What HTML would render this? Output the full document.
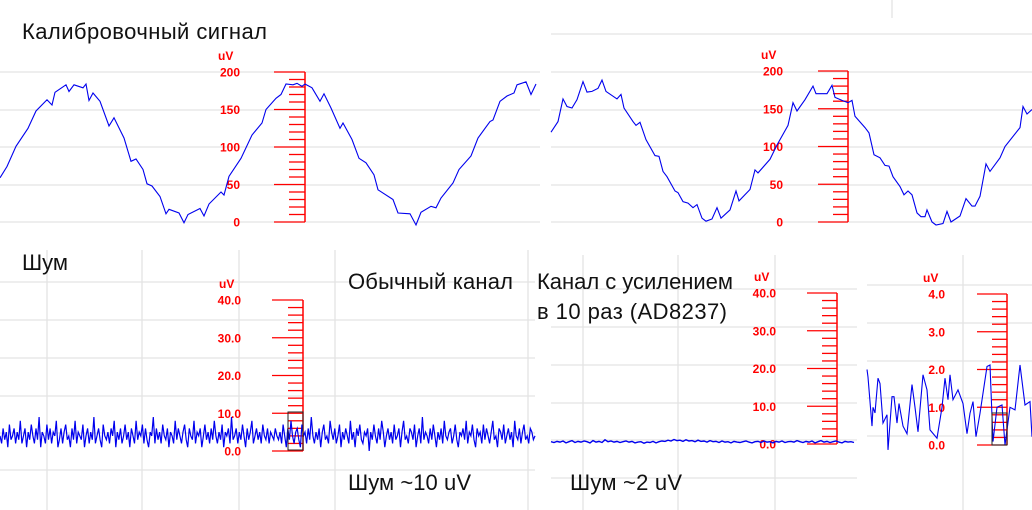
<!DOCTYPE html>
<html><head><meta charset="utf-8"><style>
html,body{margin:0;padding:0;background:#fff;width:1032px;height:510px;overflow:hidden}
svg{display:block}
.t{font-family:"Liberation Sans","Noto Sans CJK SC",sans-serif;font-size:22px;fill:#111}
.r{font-family:"Liberation Sans",sans-serif;font-size:12px;font-weight:bold;fill:#ff0000}
</style></head><body>
<svg id="c" width="1032" height="510" viewBox="0 0 1032 510">
<g id="grid"></g>
<g id="plots"></g>
<text class="t" x="22" y="39" textLength="245">Калибровочный сигнал</text>
<text class="t" x="22" y="270">Шум</text>
<text class="t" x="348" y="289" textLength="165">Обычный канал</text>
<text class="t" x="537" y="289" textLength="196">Канал с усилением</text>
<text class="t" x="537" y="319" textLength="190">в 10 раз (AD8237)</text>
<text class="t" x="348" y="490" textLength="123">Шум ~10 uV</text>
<text class="t" x="570" y="490" textLength="112">Шум ~2 uV</text>
</svg>
<script>
// ---- data ----
const calLeftT=[0,7,16,28,36,47,52,55,66,69,74,83,86,89,93,100,109,114,124,131,136,143,147,152,160,166,169,179,184,188,200,204,209,221,224,229,241,252,262,266,276,281,286,293,297,302,305,312,320,324,331,340,343,352,359,366,374,378,393,398,410,416,421,431,436,441,453,459,471,478,490,493,500,507,514,517,526,531,536];
const calLeftV=[59,74,101,125,148,163,156,173,183,174,183,179,184,162,172,161,128,139,112,81,84,70,51,48,34,11,17,12,-1,10,18,8,24,40,36,61,85,116,132,150,165,170,184,183,185,181,184,179,161,171,152,125,132,110,85,79,63,43,30,12,11,-4,13,21,19,32,52,70,88,112,134,136,161,168,172,183,187,170,184];
const calRightT=[551,558,563,567,572,577,583,587,592,598,602,606,617,621,624,633,636,640,646,655,659,663,667,675,678,683,688,693,697,702,706,712,717,721,730,736,739,750,755,758,770,777,788,793,797,805,813,816,827,832,835,842,848,852,855,865,869,874,880,885,889,893,900,904,908,912,917,921,925,927,932,936,943,947,951,960,966,972,975,980,986,990,1000,1005,1020,1023,1027,1032];
const calRightV=[119,133,163,153,151,162,186,172,173,177,188,173,163,169,151,133,128,132,109,88,87,67,60,41,39,27,25,19,23,5,1,4,19,5,16,41,28,43,69,65,83,102,128,158,147,162,180,170,170,181,165,161,158,161,140,125,118,89,85,75,74,60,47,36,41,36,12,7,7,16,0,-4,-2,14,0,8,31,21,21,34,77,67,85,100,125,153,143,149];
const noiseLeft=[4,2,6,3,5,1,7,3,4,6,2,5,3,8,2,4,6,1,5,3,7,4,2,6,3,9,1,5,4,2,7,3,6,2,5,4,8,1,3,6,2,5,7,3,4,1,6,3,8,2,5,4,3,7,1,4,6,2,5,3,9,2,4,6,3,1,7,4,3,5,2,6,4,8,1,5,3,6,2,4,7,3,5,1,6,4,2,8,3,5,4,7,2,6,3,1,5,4,9,2,6,3,5,2,7,4,3,6,1,5,4,2,8,3,6,4,2,5,7,3,1,6,4,3,8,2,5,4,6,1,4,7,3,5,2,6,3,8,4,2,5,3,7,1,5,4,6,2,9,3,4,6,2,5,3,7,4,1,6,3,5,8,2,4,6,3,5,2,7,4,3,6,2,5,4,3,6,4,
 3,5,2,7,4,1,6,3,8,4,2,5,6,3,1,7,4,5,2,6,3,9,4,2,5,3,6,1,5,7,3,4,2,8,5,3,6,2,4,7,1,5,3,6,4,2,8,3,5,1,6,4,7,3,2,5,4,6,0,5,3,7,4,2,6,3,8,5,1,4,6,3,5,2,7,3,4,6,1,5,8,3,4,2,6,5,3,7,1,4,6,2,9,3,5,4,2,6,3,7,4,1,5,3,6,2,8,4,3,5,6,2,4,7,3,1,5,4,6,3,8,2,5,4,7,3,1,6,4,5,2,7,3,6,4,2,5,8,3,4,1,6,5,3,7,2,4,6,3,5,1,8,4,3,6,2,5,7,3,4,2,6,5,3,4];
const noiseMid=[0.6,0.4,0.7,0.5,0.8,0.3,0.6,0.9,0.4,0.7,0.5,0.8,0.6,0.3,0.9,0.5,0.7,0.4,1.1,0.6,0.8,0.5,0.7,0.4,0.6,0.8,0.5,0.7,0.3,0.5,0.6,0.2,0.5,0.4,0.7,0.3,0.6,0.8,0.7,1.0,0.8,1.2,0.9,1.0,0.7,1.1,0.8,0.9,0.6,1.0,0.7,0.8,0.5,0.9,0.6,0.7,0.4,0.8,0.5,0.6,0.3,0.7,0.5,0.4,0.6,0.8,0.5,0.3,0.6,0.7,0.4,0.8,0.5,0.6,0.3,0.7,0.5,0.8,0.4,0.6,0.7,0.5,0.9,0.6,0.4,0.7,0.5,0.8,0.3,0.6,0.9,0.5,0.7,0.4,0.6,0.8,0.5,0.3,0.7,0.5,0.6,0.4];
const zoomT=[867,868,872,873,875,878,880,883,887,888,892,894,897,899,903,907,912,915,918,923,927,930,937,942,945,948,950,953,958,963,967,970,973,976,980,987,990,993,997,1002,1005,1010,1015,1020,1025,1030,1032];
const zoomV=[2.0,1.8,0.5,1.0,0.85,1.77,1.63,0.58,0.8,-0.13,1.28,1.28,0.58,1.1,0.5,0.3,1.6,1.0,0.35,1.86,1.46,0.4,0.18,1.0,1.77,1.2,1.86,1.2,1.46,1.1,0.3,0.84,1.15,0.22,0.84,2.08,2.12,0.09,1.0,1.06,0,1.0,0.93,2.12,1.06,1.15,0.22];
const ruler200Labels=["0","50","100","150","200"];
const ruler40Labels=["0.0","10.0","20.0","30.0","40.0"];
const ruler4Labels=["0.0","1.0","2.0","3.0","4.0"];

const NS="http://www.w3.org/2000/svg";
const grid=document.getElementById('grid'), plots=document.getElementById('plots');
function mk(tag,attrs,parent){const e=document.createElementNS(NS,tag);for(const k in attrs)e.setAttribute(k,attrs[k]);parent.appendChild(e);return e;}
function hline(y,x1,x2){const l=mk('line',{x1:x1,x2:x2,y1:y,y2:y,stroke:'#e3e3e3','stroke-width':1.3},grid);

}
function vline(x,y1,y2){const l=mk('line',{x1:x,x2:x,y1:y1,y2:y2,stroke:'#e3e3e3','stroke-width':1.3},grid);

}
[72,110,147,185,222].forEach(y=>hline(y,0,540));
[34,72,110,147,185,222].forEach(y=>hline(y,551,1032));
vline(892,0,18);
[282,320,358,396,433,470].forEach(y=>hline(y,0,535));
[47,142,239,335,528].forEach(x=>vline(x,250,510));
[289,327,365,403,440,478].forEach(y=>hline(y,551,857));
[583,678,775].forEach(x=>vline(x,255,510));
[285,323,361,398,436].forEach(y=>hline(y,867,1032));
vline(963,255,510);

function ruler(name,labels,maxV,y0,y1,labX,x0,x1,xm,nMinor){
  const g=mk('g',{},plots);
  
  
  const sy=v=>y0+(y1-y0)*v/maxV;
  const u=mk('text',{x:labX-22,y:y1-12,'class':'r'},g);u.textContent='uV';
  
  
  mk('line',{x1:x1,x2:x1,y1:y0,y2:y1,stroke:'#f00','stroke-width':1.5},g);
  const step=maxV/(labels.length-1);
  labels.forEach((lab,i)=>{const v=i*step,y=sy(v);
    mk('line',{x1:x0,x2:x1,y1:y,y2:y,stroke:'#f00','stroke-width':1.3},g);
    const t=mk('text',{x:labX,y:y+4.5,'class':'r','text-anchor':'end'},g);t.textContent=lab;
    
    });
  const ms=step/nMinor;
  for(let v=ms;v<maxV;v+=ms){if(Math.abs(v/step-Math.round(v/step))<1e-6)continue;const y=sy(v);
    mk('line',{x1:xm,x2:x1,y1:y,y2:y,stroke:'#f00','stroke-width':1.3},g);}
}
function series(name,ts,vs,maxV,y0,y1,w){
  const sy=v=>y0+(y1-y0)*v/maxV;
  const d=ts.map((t,i)=>(i?'L':'M')+t.toFixed(1)+','+sy(vs[i]).toFixed(1)).join('');
  const p=mk('path',{d:d,fill:'none',stroke:'#0000ee','stroke-width':w||1.1},plots);
  
  
}
ruler('ruler-cal-left',ruler200Labels,200,222,72,240,274,305,289,5);
series('calibration-left-line',calLeftT,calLeftV,200,222,72);
ruler('ruler-cal-right',ruler200Labels,200,222,71,783,818,848,833,5);
series('calibration-right-line',calRightT,calRightV,200,222,71);
ruler('ruler-noise-left',ruler40Labels,40,451,300,241,272,303,288,5);
series('noise-normal-line',noiseLeft.map((v,i)=>i*535/(noiseLeft.length-1)),noiseLeft,40,451,300,1.2);
ruler('ruler-noise-mid',ruler40Labels,40,444,293,776,807,837,822,5);
series('noise-amplified-line',noiseMid.map((v,i)=>551+i*3),noiseMid,40,444,293,1.4);
ruler('ruler-noise-zoom',ruler4Labels,4,445,294,945,977,1007,992,5);
series('noise-zoom-line',zoomT,zoomV,4,445,294);
const b1=mk('rect',{x:288,y:412,width:15,height:38,fill:'none',stroke:'#222','stroke-width':1},plots);


const b2=mk('rect',{x:992,y:413,width:15,height:32,fill:'none',stroke:'#222','stroke-width':1},plots);


</script>
</body></html>
